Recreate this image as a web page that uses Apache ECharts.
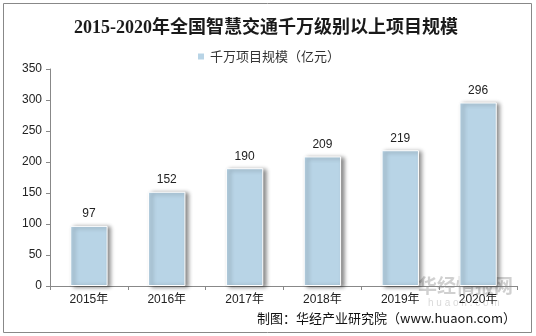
<!DOCTYPE html>
<html><head><meta charset="utf-8">
<script src="https://cdn.jsdelivr.net/npm/echarts@6/dist/echarts.min.js"></script>
<style>html,body{margin:0;padding:0;background:#fff}#c{width:536px;height:336px}</style>
</head><body><div id="c"></div>
<script>
var categories = ['2015年','2016年','2017年','2018年','2019年','2020年'];
var values = [97,152,190,209,219,296];
var seriesName = '千万项目规模（亿元）';
var titleText = '2015-2020年全国智慧交通千万级别以上项目规模';
var sourceText = '制图：华经产业研究院（www.huaon.com）';
var yMax = 350, yStep = 50;

var chart = echarts.init(document.getElementById('c'), null, {renderer:'canvas'});
chart.setOption({
  animation:false,
  backgroundColor:'#fff',
  title:{text:titleText,left:261,textAlign:'center',top:14,
    textStyle:{fontFamily:'"Liberation Serif","Times New Roman","Noto Sans CJK SC",serif',fontSize:18,fontWeight:'bold',color:'#1a1a1a'}},
  legend:{top:45,left:'center',itemWidth:8,itemHeight:8,itemGap:3,icon:'rect',
    textStyle:{fontFamily:'"Noto Sans CJK SC",sans-serif',fontSize:13,color:'#333'},
    data:[seriesName]},
  grid:{left:50,right:19,top:69,bottom:50},
  xAxis:{type:'category',data:categories,
    axisLine:{lineStyle:{color:'#888',width:1}},
    axisTick:{show:true,length:4,lineStyle:{color:'#888'}},
    axisLabel:{color:'#222',fontSize:12,margin:8,fontFamily:'Arial,"Liberation Sans","Noto Sans CJK SC",sans-serif'}},
  yAxis:{type:'value',min:0,max:yMax,interval:yStep,
    axisLine:{show:true,lineStyle:{color:'#888',width:1}},
    axisTick:{show:true,inside:false,length:4,lineStyle:{color:'#888'}},
    splitLine:{show:false},
    axisLabel:{color:'#222',fontSize:12,margin:8,fontFamily:'Arial,"Liberation Sans",sans-serif'}},
  series:[{name:seriesName,type:'bar',data:values,barWidth:'48%',
    itemStyle:{color:'#b8d4e6',borderColor:'#fff',borderWidth:1,
      shadowColor:'rgba(0,0,0,0.45)',shadowBlur:4,shadowOffsetX:3,shadowOffsetY:1},
    label:{show:true,position:'top',distance:6,color:'#222',fontSize:12,
      fontFamily:'Arial,"Liberation Sans",sans-serif'}}],
  graphic:[
    {type:'rect',shape:{x:3.5,y:3.5,width:528,height:329},style:{fill:'none',stroke:'#888',lineWidth:1},z:-1},
    {type:'text',left:418,top:276,style:{text:'华经情报网',fontSize:19,fontWeight:'bold',fill:'rgba(150,150,150,0.45)',fontFamily:'"Noto Sans CJK SC",sans-serif'},z:0},
    {type:'text',left:428,top:298,style:{text:'h u a o n . c o m',fontSize:10,fill:'rgba(170,170,170,0.45)',fontFamily:'Arial,sans-serif'},z:0},
    {type:'text',right:20,top:312,style:{text:sourceText,fontSize:13,fill:'#111',fontFamily:'"Noto Sans CJK SC",sans-serif'},z:10}
  ]
});
</script></body></html>
